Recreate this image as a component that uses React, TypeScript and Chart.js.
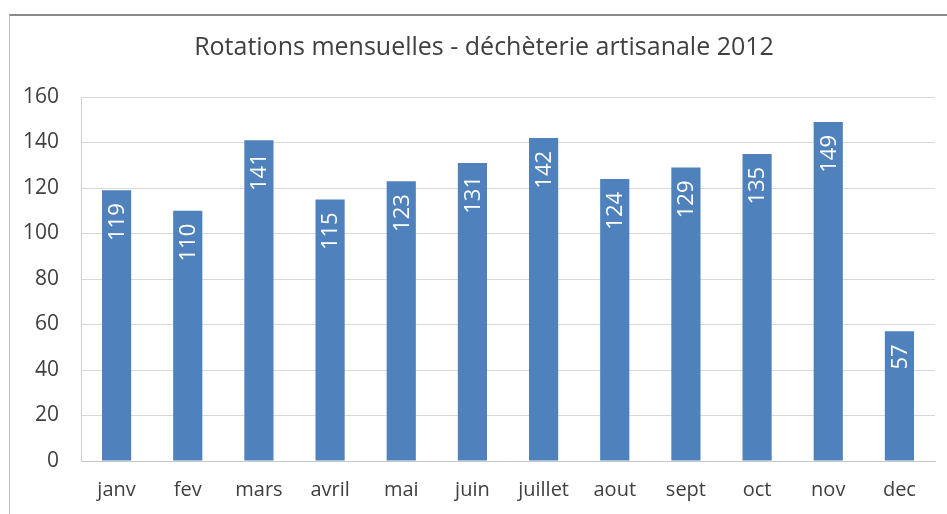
import React, { useEffect, useRef } from "react";
import { Chart, registerables } from "chart.js";

Chart.register(...registerables);

const TITLE = "Rotations mensuelles - déchèterie artisanale 2012";
const months = ["janv", "fev", "mars", "avril", "mai", "juin", "juillet", "aout", "sept", "oct", "nov", "dec"];
const rotations = [119, 110, 141, 115, 123, 131, 142, 124, 129, 135, 149, 57];
const yMin = 0;
const yMax = 160;
const yStep = 20;

const FONT = "'Open Sans', 'DejaVu Sans', sans-serif";

const barLabels = {
  id: "barLabels",
  afterDatasetsDraw(chart: any) {
    const ctx = chart.ctx;
    const meta = chart.getDatasetMeta(0);
    ctx.save();
    ctx.fillStyle = "#ffffff";
    ctx.font = `22px ${FONT}`;
    ctx.textAlign = "right";
    ctx.textBaseline = "middle";
    meta.data.forEach((bar: any, i: number) => {
      ctx.save();
      ctx.translate(bar.x, bar.y + 13);
      ctx.rotate(-Math.PI / 2);
      ctx.fillText(String(rotations[i]), 0, 1);
      ctx.restore();
    });
    ctx.restore();
  },
};

const titlePlugin = {
  id: "customTitle",
  afterDraw(chart: any) {
    const ctx = chart.ctx;
    ctx.save();
    ctx.fillStyle = "#404040";
    ctx.font = `25px ${FONT}`;
    ctx.textAlign = "center";
    ctx.textBaseline = "middle";
    ctx.fillText(TITLE, 484, 48);
    ctx.restore();
  },
};

export default function App() {
  const ref = useRef<HTMLCanvasElement>(null);
  useEffect(() => {
    document.body.style.margin = "0";
    const chart = new Chart(ref.current!, {
      type: "bar",
      data: {
        labels: months,
        datasets: [
          {
            data: rotations,
            backgroundColor: "#4F81BD",
            borderWidth: 0,
            categoryPercentage: 1,
            barPercentage: 0.41,
          },
        ],
      },
      options: {
        animation: false,
        responsive: false,
        layout: { padding: { left: 10, right: 12, top: 97, bottom: 0 } },
        plugins: {
          legend: { display: false },
          tooltip: { enabled: false },
          title: { display: false },
        },
        scales: {
          x: {
            grid: { display: false, drawTicks: false },
            border: { display: true, color: "#c8c8c8" },
            ticks: { color: "#404040", font: { family: FONT, size: 20 }, padding: 17 },
            afterFit: (s: any) => { s.height = 53; },
          },
          y: {
            min: yMin,
            max: yMax,
            ticks: { stepSize: yStep, color: "#404040", font: { family: FONT, size: 21 }, padding: 22 },
            grid: { color: "#d9d9d9", drawTicks: false },
            border: { display: true, color: "#d0d0d0" },
            afterFit: (s: any) => { s.width = 71; },
          },
        },
      },
      plugins: [barLabels, titlePlugin],
    });
    return () => chart.destroy();
  }, []);
  return (
    <div style={{ position: "fixed", left: 0, top: 0, width: 947, height: 514, background: "#fff" }}>
      <canvas ref={ref} width={947} height={514} style={{ position: "absolute", left: 0, top: 0 }} />
      <div style={{ position: "absolute", left: 9, top: 14, right: 0, bottom: 0, borderTop: "2px solid #8a8a8a", borderLeft: "1px solid #c0c0c0", pointerEvents: "none" }} />
    </div>
  );
}
